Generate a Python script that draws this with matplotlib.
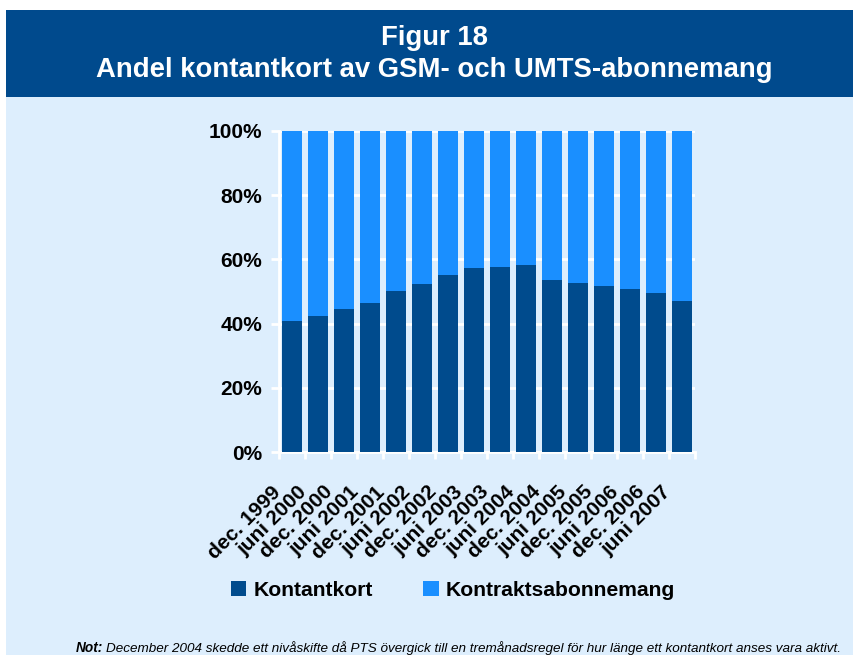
import matplotlib
matplotlib.use("Agg")
import matplotlib.pyplot as plt
from matplotlib.patches import Rectangle
from matplotlib.ticker import PercentFormatter
from matplotlib.transforms import ScaledTranslation

categories = ["dec. 1999", "juni 2000", "dec. 2000", "juni 2001", "dec. 2001", "juni 2002",
              "dec. 2002", "juni 2003", "dec. 2003", "juni 2004", "dec. 2004", "juni 2005",
              "dec. 2005", "juni 2006", "dec. 2006", "juni 2007"]
kontantkort = [40.9, 42.4, 44.6, 46.5, 50.1, 52.2, 55.1, 57.2, 57.6, 58.2, 53.5, 52.6,
               51.6, 50.9, 49.4, 46.9]
kontrakt = [100 - v for v in kontantkort]

DARK = "#004B8D"
LIGHT = "#1A8FFF"
BG = "#DDEEFD"
HEADER = "#004A8D"

plt.rcParams['font.family'] = ['Liberation Sans', 'DejaVu Sans']

W, H = 854, 655
fig = plt.figure(figsize=(W / 100, H / 100), dpi=100)
fig.patch.set_facecolor("white")

def fx(x): return x / W
def fy(y): return 1 - y / H

fig.add_artist(Rectangle((fx(6), fy(655)), 1 - fx(6), fy(97) - fy(655),
                         transform=fig.transFigure, facecolor=BG, edgecolor="none", zorder=0))
fig.add_artist(Rectangle((fx(6), fy(97)), 1 - fx(6), fy(10) - fy(97),
                         transform=fig.transFigure, facecolor=HEADER, edgecolor="none", zorder=0))

fig.text(fx(434), fy(38), "Figur 18", color="white", fontsize=19.8, fontweight="bold",
         ha="center", va="center")
fig.text(fx(434), fy(70), "Andel kontantkort av GSM- och UMTS-abonnemang", color="white",
         fontsize=19.8, fontweight="bold", ha="center", va="center")

ax = fig.add_axes([fx(279), fy(452), fx(695) - fx(279), fy(131) - fy(452)])
ax.set_facecolor(BG)
x = list(range(len(categories)))
b1 = ax.bar(x, kontantkort, width=0.75, color=DARK, zorder=3, label="Kontantkort")
b2 = ax.bar(x, kontrakt, width=0.75, bottom=kontantkort, color=LIGHT, zorder=3,
            label="Kontraktsabonnemang")
ax.set_xlim(-0.5, len(categories) - 0.5)
ax.set_ylim(0, 100)
ax.set_yticks([0, 20, 40, 60, 80, 100])
ax.yaxis.set_major_formatter(PercentFormatter(decimals=0))
ax.grid(axis="y", color="white", linewidth=2, zorder=1)
for s in ["top", "right"]:
    ax.spines[s].set_visible(False)
for s in ["left", "bottom"]:
    ax.spines[s].set_color("white")
    ax.spines[s].set_linewidth(2)
ax.set_xticks([i - 0.5 for i in range(len(categories) + 1)], minor=False)
ax.set_xticklabels([])
ax.tick_params(axis="x", which="major", length=5, width=2, color="white", direction="out")
ax.set_xticks(x, minor=True)
ax.set_xticklabels(categories, minor=True, rotation=45, ha="right", va="top",
                   rotation_mode="anchor", fontsize=15, fontweight="bold")
ax.tick_params(axis="x", which="minor", length=0, pad=21.8)
shift = ScaledTranslation(-21 / 100, 0, fig.dpi_scale_trans)
for t in ax.get_xticklabels(minor=True):
    t.set_transform(t.get_transform() + shift)
ax.tick_params(axis="y", length=6, width=2, color="white", labelsize=15, pad=6)
for t in ax.get_yticklabels():
    t.set_fontweight("bold")

leg = fig.legend(handles=[b1, b2], loc="center", bbox_to_anchor=(fx(453), fy(590)), ncol=2,
                 frameon=False, prop={"weight": "bold", "size": 15.2}, handlelength=0.72,
                 handleheight=0.72, handletextpad=0.35, columnspacing=2.4)

fig.text(fx(76), fy(652), "Not:", fontsize=9.8, fontweight="bold", fontstyle="italic",
         ha="left", va="baseline")
fig.text(fx(106), fy(652),
         "December 2004 skedde ett nivåskifte då PTS övergick till en tremånadsregel för hur länge ett kontantkort anses vara aktivt.",
         fontsize=9.7, fontstyle="italic", ha="left", va="baseline")

fig.savefig("out.png", dpi=100, facecolor=fig.get_facecolor())
